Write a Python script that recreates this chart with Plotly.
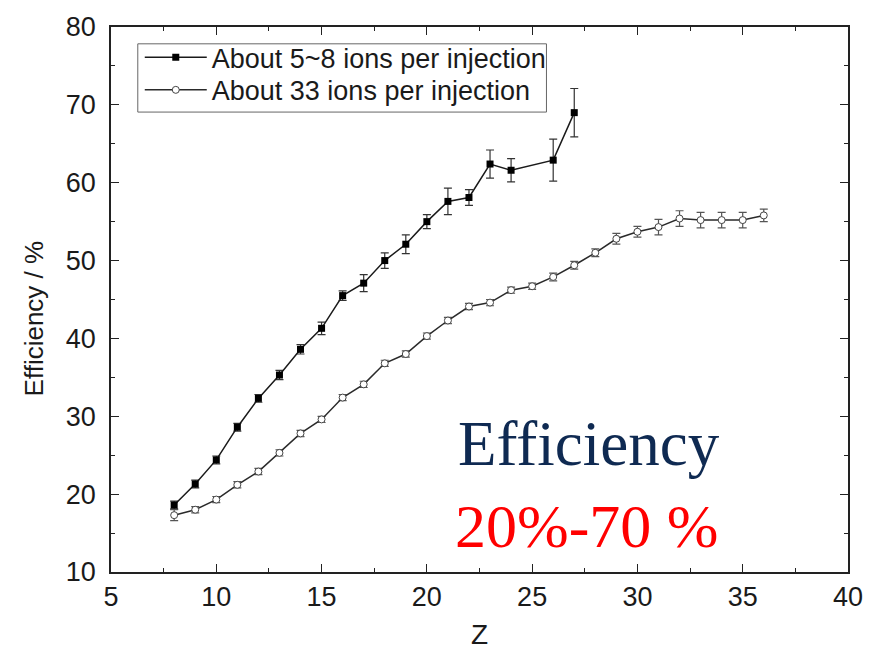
import plotly.graph_objects as go

# ---- data ----
z_few = [8, 9, 10, 11, 12, 13, 14, 15, 16, 17, 18, 19, 20, 21, 22, 23, 24, 26, 27]
eff_few = [18.6, 21.3, 24.4, 28.6, 32.3, 35.3, 38.6, 41.3, 45.5, 47.1, 50.0, 52.1,
           55.0, 57.6, 58.1, 62.4, 61.6, 62.9, 69.0]
err_few = [0.5, 0.5, 0.5, 0.5, 0.5, 0.6, 0.6, 0.8, 0.6, 1.1, 1.0, 1.2,
           0.9, 1.7, 1.0, 1.8, 1.5, 2.7, 3.1]

z_many = list(range(8, 37))
eff_many = [17.3, 18.0, 19.3, 21.2, 22.9, 25.3, 27.8, 29.6, 32.4, 34.1, 36.8, 38.0,
            40.3, 42.3, 44.1, 44.6, 46.2, 46.7, 47.9, 49.4, 51.0, 52.8, 53.7, 54.3,
            55.4, 55.2, 55.2, 55.2, 55.8]
err_many = [0.7, 0.4, 0.4, 0.4, 0.4, 0.4, 0.4, 0.4, 0.4, 0.4, 0.4, 0.4,
            0.4, 0.4, 0.4, 0.4, 0.4, 0.4, 0.5, 0.5, 0.5, 0.7, 0.7, 1.0,
            1.0, 1.0, 1.0, 1.0, 0.8]

name_few = "About 5~8 ions per injection"
name_many = "About 33 ions per injection"
x_title = "Z"
y_title = "Efficiency / %"
note_1 = "Efficiency"
note_2 = "20%-70 %"

W, H = 875, 658
L, R, T, B = 111, 854, 21, 572

def px(x):
    return (x - L) / (R - L)

def py(y):
    return (B - y) / (B - T)

fig = go.Figure()
fig.add_trace(go.Scatter(
    x=z_few, y=eff_few, name=name_few, mode="lines+markers", legend="legend",
    line=dict(color="#1a1a1a", width=1.5),
    marker=dict(symbol="square", size=7, color="#000000"),
    error_y=dict(type="data", array=err_few, visible=True, color="#333333",
                 thickness=1.2, width=4),
))
fig.add_trace(go.Scatter(
    x=z_many, y=eff_many, name=name_many, mode="lines+markers", legend="legend2",
    line=dict(color="#2a2a2a", width=1.5),
    marker=dict(symbol="circle", size=7, color="#ffffff",
                line=dict(color="#444444", width=1)),
    error_y=dict(type="data", array=err_many, visible=True, color="#555555",
                 thickness=1.2, width=4),
))

axis_common = dict(
    showgrid=False, zeroline=False, showline=True, linecolor="#222222",
    linewidth=1.5, mirror="ticks", ticks="inside", ticklen=8, tickwidth=1.3,
    tickcolor="#222222",
    tickfont=dict(family="Liberation Sans, Arial, sans-serif", size=27, color="#1a1a1a"),
)

fig.update_xaxes(range=[5, 40], dtick=5, tick0=5,
                 minor=dict(dtick=2.5, ticks="inside", ticklen=4, tickcolor="#222222"),
                 **axis_common)
fig.update_yaxes(range=[10, 80], dtick=10, tick0=10, ticklabelstandoff=8,
                 minor=dict(dtick=5, ticks="inside", ticklen=4, tickcolor="#222222"),
                 **axis_common)

fig.add_annotation(text=x_title, xref="paper", yref="paper", x=px(483), y=py(635),
                   showarrow=False, xanchor="center", yanchor="middle",
                   font=dict(family="Liberation Sans, Arial, sans-serif", size=28, color="#1a1a1a"))
fig.add_annotation(text=y_title, xref="paper", yref="paper", x=px(33), y=py(316),
                   showarrow=False, xanchor="center", yanchor="middle", textangle=-90,
                   font=dict(family="Liberation Sans, Arial, sans-serif", size=26, color="#1a1a1a"))
fig.add_annotation(text=note_1, xref="paper", yref="paper", x=px(459), y=py(443),
                   showarrow=False, xanchor="left", yanchor="middle",
                   font=dict(family="Liberation Serif, Times New Roman, serif", size=63, color="#0f2a52"))
fig.add_annotation(text=note_2, xref="paper", yref="paper", x=px(456), y=py(525),
                   showarrow=False, xanchor="left", yanchor="middle",
                   font=dict(family="Liberation Serif, Times New Roman, serif", size=62, color="#ff0000"))

# legend frame
fig.add_shape(type="rect", xref="paper", yref="paper",
              x0=px(138), x1=px(550), y0=py(107), y1=py(38),
              line=dict(color="#666666", width=1), fillcolor="white", layer="below")

leg_font = dict(family="Liberation Sans, Arial, sans-serif", size=27, color="#1a1a1a")
fig.update_layout(
    width=W, height=H,
    margin=dict(l=L, r=W - R, t=T, b=H - B, pad=0),
    paper_bgcolor="white", plot_bgcolor="white",
    showlegend=True,
    legend=dict(x=px(140), y=py(52), xanchor="left", yanchor="middle",
                bgcolor="rgba(0,0,0,0)", borderwidth=0, itemwidth=62, font=leg_font),
    legend2=dict(x=px(140), y=py(85), xanchor="left", yanchor="middle",
                 bgcolor="rgba(0,0,0,0)", borderwidth=0, itemwidth=62, font=leg_font),
)

fig.write_html("out.html")
